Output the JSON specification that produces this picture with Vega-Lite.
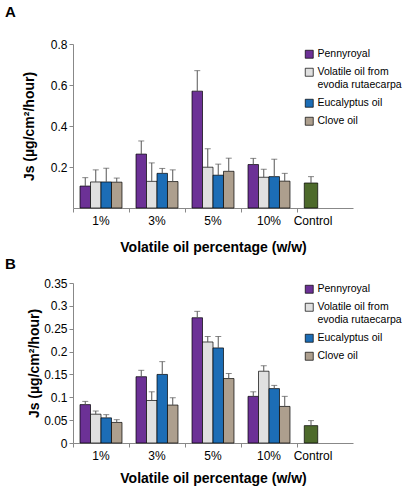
{
  "$schema": "https://vega.github.io/schema/vega-lite/v6.json",
  "padding": {"left": 5, "top": 5, "right": 5, "bottom": 5},
  "config": {
    "font": "Liberation Sans",
    "view": {"stroke": null},
    "axis": {"grid": false, "domainColor": "#888", "tickColor": "#888", "labelColor": "#000", "titleColor": "#000", "labelFontSize": 12, "titleFontSize": 14, "titleFontWeight": "bold", "labelFont": "Liberation Sans", "titleFont": "Liberation Sans"},
    "axisQuantitative": {"labelOverlap": false, "tickCount": 7},
    "legend": {"labelFontSize": 10.5, "labelFont": "Liberation Sans", "labelColor": "#000", "labelLimit": 200},
    "title": {"font": "Liberation Sans", "fontSize": 15, "fontWeight": "bold", "color": "#000"}
  },
  "datasets": {
    "a": [
      {"pct": "1%", "oil": "Pennyroyal", "js": 0.107, "upper": 0.148},
      {"pct": "1%", "oil": "Volatile oil from evodia rutaecarpa", "js": 0.127, "upper": 0.186},
      {"pct": "1%", "oil": "Eucalyptus oil", "js": 0.127, "upper": 0.194},
      {"pct": "1%", "oil": "Clove oil", "js": 0.126, "upper": 0.146},
      {"pct": "3%", "oil": "Pennyroyal", "js": 0.263, "upper": 0.327},
      {"pct": "3%", "oil": "Volatile oil from evodia rutaecarpa", "js": 0.13, "upper": 0.22},
      {"pct": "3%", "oil": "Eucalyptus oil", "js": 0.169, "upper": 0.193},
      {"pct": "3%", "oil": "Clove oil", "js": 0.129, "upper": 0.186},
      {"pct": "5%", "oil": "Pennyroyal", "js": 0.57, "upper": 0.67},
      {"pct": "5%", "oil": "Volatile oil from evodia rutaecarpa", "js": 0.199, "upper": 0.289},
      {"pct": "5%", "oil": "Eucalyptus oil", "js": 0.16, "upper": 0.214},
      {"pct": "5%", "oil": "Clove oil", "js": 0.179, "upper": 0.243},
      {"pct": "10%", "oil": "Pennyroyal", "js": 0.212, "upper": 0.242},
      {"pct": "10%", "oil": "Volatile oil from evodia rutaecarpa", "js": 0.15, "upper": 0.189},
      {"pct": "10%", "oil": "Eucalyptus oil", "js": 0.153, "upper": 0.238},
      {"pct": "10%", "oil": "Clove oil", "js": 0.131, "upper": 0.169},
      {"pct": "Control", "oil": "Control", "js": 0.122, "upper": 0.153}
    ],
    "b": [
      {"pct": "1%", "oil": "Pennyroyal", "js": 0.084, "upper": 0.091},
      {"pct": "1%", "oil": "Volatile oil from evodia rutaecarpa", "js": 0.063, "upper": 0.07},
      {"pct": "1%", "oil": "Eucalyptus oil", "js": 0.055, "upper": 0.062},
      {"pct": "1%", "oil": "Clove oil", "js": 0.045, "upper": 0.051},
      {"pct": "3%", "oil": "Pennyroyal", "js": 0.145, "upper": 0.159},
      {"pct": "3%", "oil": "Volatile oil from evodia rutaecarpa", "js": 0.093, "upper": 0.112},
      {"pct": "3%", "oil": "Eucalyptus oil", "js": 0.15, "upper": 0.178},
      {"pct": "3%", "oil": "Clove oil", "js": 0.083, "upper": 0.099},
      {"pct": "5%", "oil": "Pennyroyal", "js": 0.274, "upper": 0.288},
      {"pct": "5%", "oil": "Volatile oil from evodia rutaecarpa", "js": 0.221, "upper": 0.233},
      {"pct": "5%", "oil": "Eucalyptus oil", "js": 0.208, "upper": 0.233},
      {"pct": "5%", "oil": "Clove oil", "js": 0.141, "upper": 0.152},
      {"pct": "10%", "oil": "Pennyroyal", "js": 0.102, "upper": 0.112},
      {"pct": "10%", "oil": "Volatile oil from evodia rutaecarpa", "js": 0.157, "upper": 0.169},
      {"pct": "10%", "oil": "Eucalyptus oil", "js": 0.119, "upper": 0.126},
      {"pct": "10%", "oil": "Clove oil", "js": 0.08, "upper": 0.102},
      {"pct": "Control", "oil": "Control", "js": 0.038, "upper": 0.049}
    ]
  },
  "resolve": {"legend": {"color": "independent"}, "scale": {"y": "independent"}, "axis": {"y": "independent"}},
  "spacing": 3,
  "vconcat": [
    {
      "title": {"text": "A", "anchor": "start", "frame": "group", "dx": -68, "offset": 18},
      "width": 280,
      "height": 164,
      "data": {"name": "a"},
      "encoding": {
        "x": {"field": "pct", "type": "nominal", "sort": ["1%", "3%", "5%", "10%", "Control"], "scale": {"paddingInner": 0, "paddingOuter": 0},
          "axis": {"title": "Volatile oil percentage (w/w)", "labelAngle": 0, "bandPosition": 0, "tickSize": 4, "labelPadding": 3, "titlePadding": 14,
            "labelOffset": {"condition": {"test": "datum.value === 'Control'", "value": -12}, "value": 0}}},
        "y": {"field": "js", "type": "quantitative", "scale": {"domain": [0, 0.8], "nice": false}, "axis": {"title": "Js (µg/cm²/hour)", "values": [0.2, 0.4, 0.6, 0.8], "format": "~g", "tickSize": 4, "labelPadding": 2, "titlePadding": 14}}
      },
      "layer": [
        {
          "transform": [{"filter": "datum.oil !== 'Control'"}],
          "mark": {"type": "bar", "stroke": "#000", "strokeWidth": 0.7},
          "encoding": {
            "xOffset": {"field": "oil", "type": "nominal", "sort": ["Pennyroyal", "Volatile oil from evodia rutaecarpa", "Eucalyptus oil", "Clove oil"], "scale": {"paddingInner": 0, "paddingOuter": 0.667}},
            "color": {"field": "oil", "type": "nominal",
              "scale": {"domain": ["Pennyroyal", "Volatile oil from evodia rutaecarpa", "Eucalyptus oil", "Clove oil", "Control"], "range": ["#6c3196", "#e0e0e0", "#1c6db6", "#ad9f8e", "#4d6a2b"]},
              "legend": {"title": null, "values": ["Pennyroyal", "Volatile oil from evodia rutaecarpa", "Eucalyptus oil", "Clove oil"], "orient": "none", "legendX": 231, "legendY": 5, "symbolType": "square", "symbolSize": 64, "symbolStrokeColor": "#000", "symbolStrokeWidth": 0.7, "rowPadding": 6, "labelOffset": 3,
                "labelExpr": "datum.label === 'Volatile oil from evodia rutaecarpa' ? ['Volatile oil from', 'evodia rutaecarpa'] : datum.label"}}
          }
        },
        {
          "transform": [{"filter": "datum.oil !== 'Control'"}],
          "mark": {"type": "rule", "color": "#555", "strokeWidth": 1},
          "encoding": {
            "xOffset": {"field": "oil", "type": "nominal", "sort": ["Pennyroyal", "Volatile oil from evodia rutaecarpa", "Eucalyptus oil", "Clove oil"], "scale": {"paddingInner": 0, "paddingOuter": 0.667}},
            "y2": {"field": "upper"}
          }
        },
        {
          "transform": [{"filter": "datum.oil !== 'Control'"}],
          "mark": {"type": "tick", "color": "#555", "thickness": 1, "size": 6},
          "encoding": {
            "xOffset": {"field": "oil", "type": "nominal", "sort": ["Pennyroyal", "Volatile oil from evodia rutaecarpa", "Eucalyptus oil", "Clove oil"], "scale": {"paddingInner": 0, "paddingOuter": 0.667}},
            "y": {"field": "upper", "type": "quantitative"}
          }
        },
        {
          "transform": [{"filter": "datum.oil === 'Control'"}],
          "mark": {"type": "bar", "stroke": "#000", "strokeWidth": 0.7, "width": {"band": 0.24}, "xOffset": -14},
          "encoding": {
            "color": {"field": "oil", "type": "nominal"}
          }
        },
        {
          "transform": [{"filter": "datum.oil === 'Control'"}],
          "mark": {"type": "rule", "color": "#555", "strokeWidth": 1, "xOffset": -14},
          "encoding": {
            "y2": {"field": "upper"}
          }
        },
        {
          "transform": [{"filter": "datum.oil === 'Control'"}],
          "mark": {"type": "tick", "color": "#555", "thickness": 1, "size": 6, "xOffset": -14},
          "encoding": {
            "y": {"field": "upper", "type": "quantitative"}
          }
        }
      ]
    },
    {
      "title": {"text": "B", "anchor": "start", "frame": "group", "dx": -68, "offset": 5},
      "width": 280,
      "height": 160,
      "data": {"name": "b"},
      "encoding": {
        "x": {"field": "pct", "type": "nominal", "sort": ["1%", "3%", "5%", "10%", "Control"], "scale": {"paddingInner": 0, "paddingOuter": 0},
          "axis": {"title": "Volatile oil percentage (w/w)", "labelAngle": 0, "bandPosition": 0, "tickSize": 4, "labelPadding": 3, "titlePadding": 10,
            "labelOffset": {"condition": {"test": "datum.value === 'Control'", "value": -12}, "value": 0}}},
        "y": {"field": "js", "type": "quantitative", "scale": {"domain": [0, 0.35], "nice": false}, "axis": {"title": "Js (µg/cm²/hour)", "tickCount": 7, "labelExpr": "format(datum.value, '.2~f')", "tickSize": 4, "labelPadding": 2, "titlePadding": 2}}
      },
      "layer": [
        {
          "transform": [{"filter": "datum.oil !== 'Control'"}],
          "mark": {"type": "bar", "stroke": "#000", "strokeWidth": 0.7},
          "encoding": {
            "xOffset": {"field": "oil", "type": "nominal", "sort": ["Pennyroyal", "Volatile oil from evodia rutaecarpa", "Eucalyptus oil", "Clove oil"], "scale": {"paddingInner": 0, "paddingOuter": 0.667}},
            "color": {"field": "oil", "type": "nominal",
              "scale": {"domain": ["Pennyroyal", "Volatile oil from evodia rutaecarpa", "Eucalyptus oil", "Clove oil", "Control"], "range": ["#6c3196", "#e0e0e0", "#1c6db6", "#ad9f8e", "#4d6a2b"]},
              "legend": {"title": null, "values": ["Pennyroyal", "Volatile oil from evodia rutaecarpa", "Eucalyptus oil", "Clove oil"], "orient": "none", "legendX": 231, "legendY": 1, "symbolType": "square", "symbolSize": 64, "symbolStrokeColor": "#000", "symbolStrokeWidth": 0.7, "rowPadding": 6, "labelOffset": 3,
                "labelExpr": "datum.label === 'Volatile oil from evodia rutaecarpa' ? ['Volatile oil from', 'evodia rutaecarpa'] : datum.label"}}
          }
        },
        {
          "transform": [{"filter": "datum.oil !== 'Control'"}],
          "mark": {"type": "rule", "color": "#555", "strokeWidth": 1},
          "encoding": {
            "xOffset": {"field": "oil", "type": "nominal", "sort": ["Pennyroyal", "Volatile oil from evodia rutaecarpa", "Eucalyptus oil", "Clove oil"], "scale": {"paddingInner": 0, "paddingOuter": 0.667}},
            "y2": {"field": "upper"}
          }
        },
        {
          "transform": [{"filter": "datum.oil !== 'Control'"}],
          "mark": {"type": "tick", "color": "#555", "thickness": 1, "size": 6},
          "encoding": {
            "xOffset": {"field": "oil", "type": "nominal", "sort": ["Pennyroyal", "Volatile oil from evodia rutaecarpa", "Eucalyptus oil", "Clove oil"], "scale": {"paddingInner": 0, "paddingOuter": 0.667}},
            "y": {"field": "upper", "type": "quantitative"}
          }
        },
        {
          "transform": [{"filter": "datum.oil === 'Control'"}],
          "mark": {"type": "bar", "stroke": "#000", "strokeWidth": 0.7, "width": {"band": 0.24}, "xOffset": -14},
          "encoding": {
            "color": {"field": "oil", "type": "nominal"}
          }
        },
        {
          "transform": [{"filter": "datum.oil === 'Control'"}],
          "mark": {"type": "rule", "color": "#555", "strokeWidth": 1, "xOffset": -14},
          "encoding": {
            "y2": {"field": "upper"}
          }
        },
        {
          "transform": [{"filter": "datum.oil === 'Control'"}],
          "mark": {"type": "tick", "color": "#555", "thickness": 1, "size": 6, "xOffset": -14},
          "encoding": {
            "y": {"field": "upper", "type": "quantitative"}
          }
        }
      ]
    }
  ]
}
